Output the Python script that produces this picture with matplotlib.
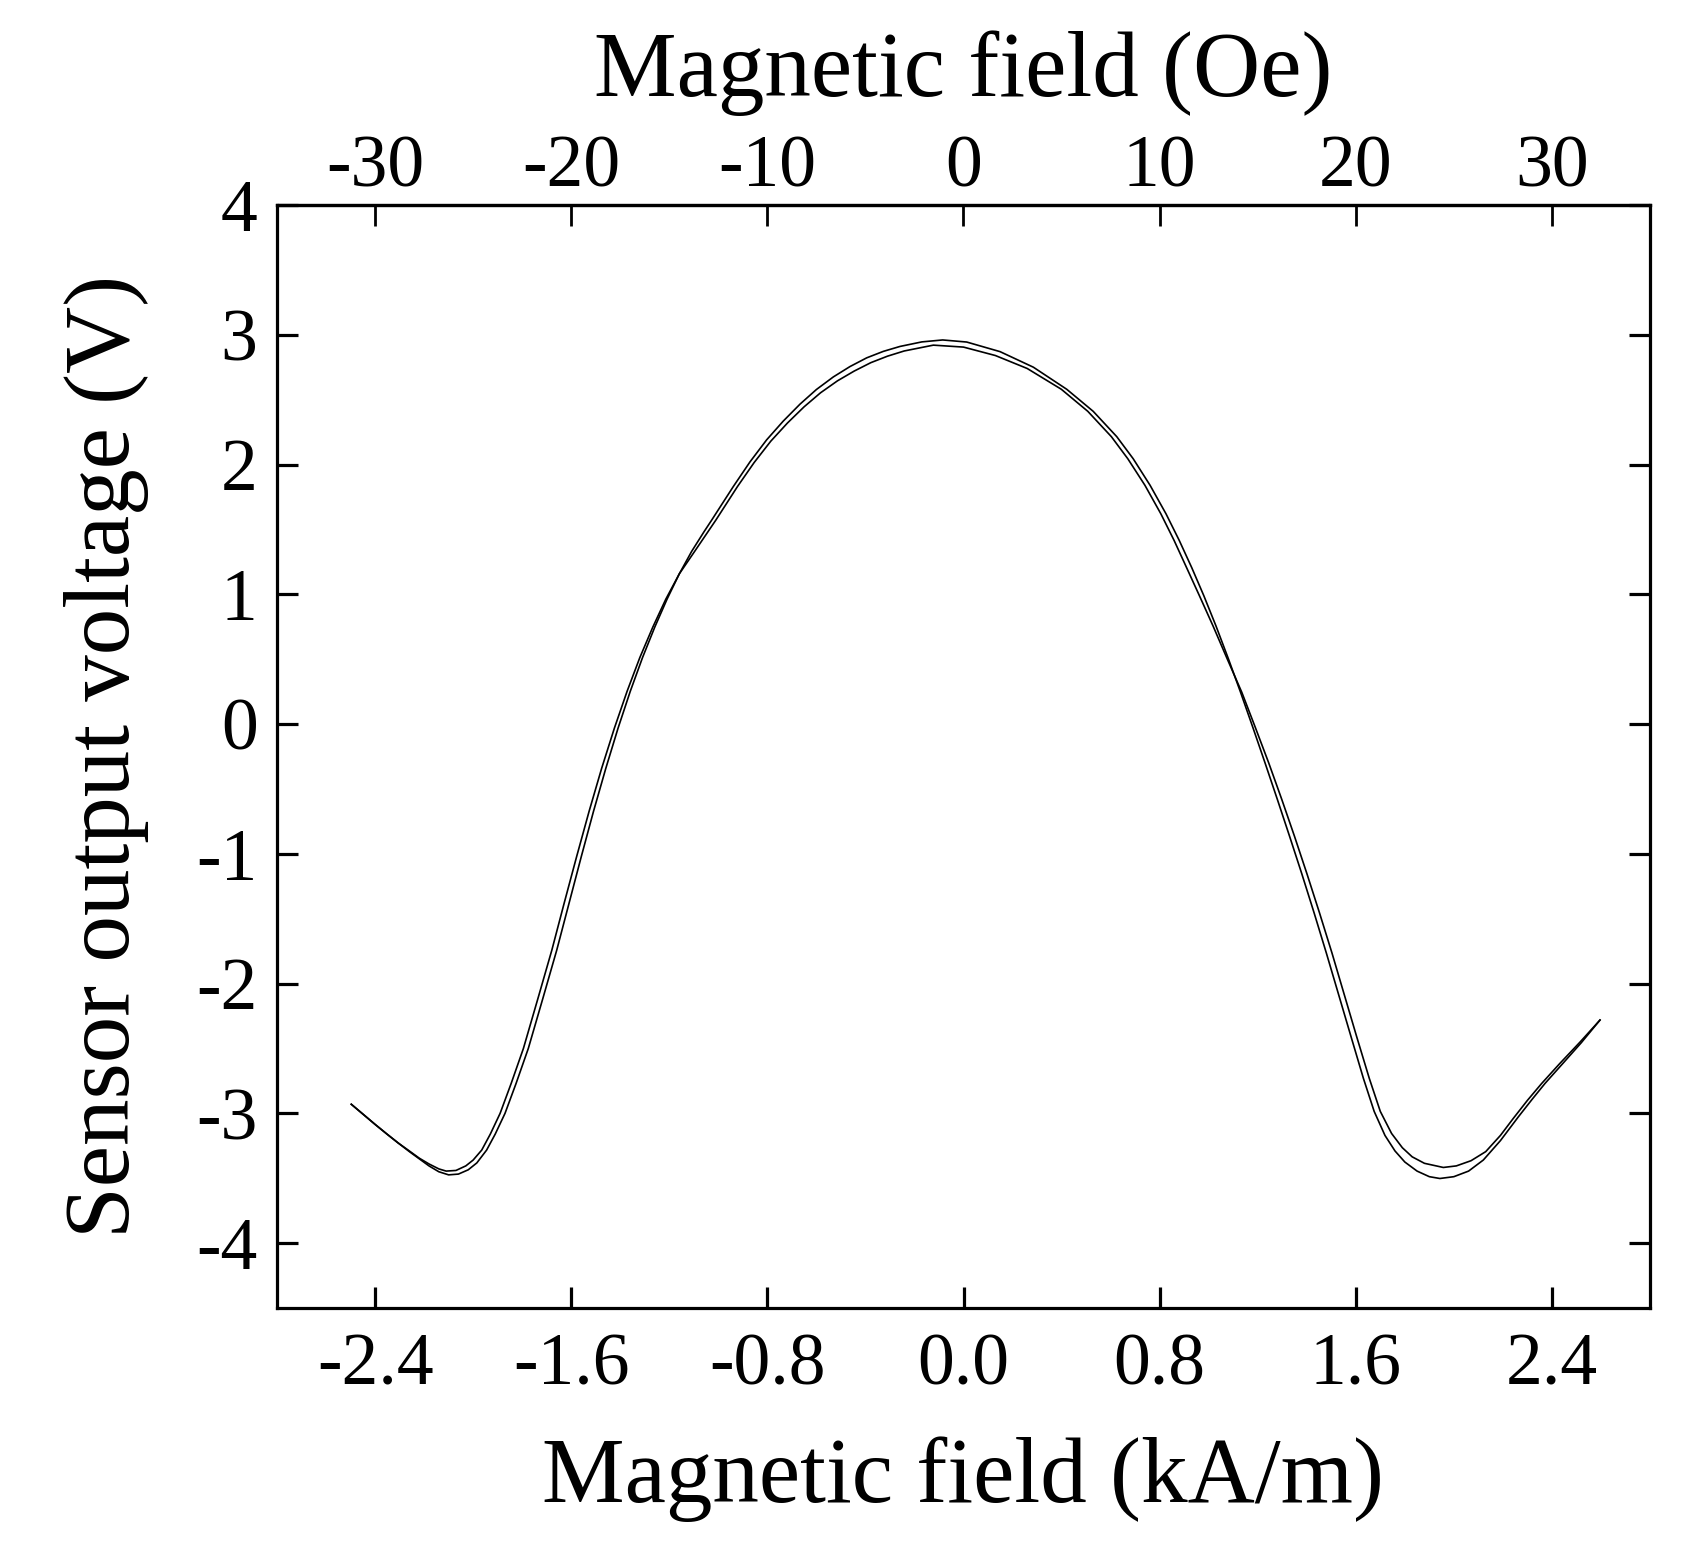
import numpy as np
import matplotlib.pyplot as plt
from matplotlib.ticker import FixedLocator, FormatStrFormatter


# -----------------------------
# Data (kA/m, V)
# -----------------------------
# branch with the larger swing (outer at the peak)
field_a = [-2.497, -2.450, -2.400, -2.350, -2.306, -2.260, -2.220, -2.180,
           -2.140, -2.100, -2.060, -2.020, -1.985, -1.945, -1.910, -1.870,
           -1.825, -1.775, -1.715, -1.659, -1.609, -1.559, -1.509, -1.459,
           -1.409, -1.359, -1.309, -1.259, -1.209, -1.159, -1.109, -1.059,
           -1.027, -0.939, -0.871, -0.803, -0.735, -0.667, -0.600, -0.531,
           -0.463, -0.395, -0.327, -0.259, -0.170, -0.085, 0.013, 0.149,
           0.285, 0.421, 0.529, 0.625, 0.692, 0.761, 0.826, 0.880,
           0.931, 0.980, 1.030, 1.080, 1.130, 1.180, 1.230, 1.280,
           1.330, 1.380, 1.430, 1.480, 1.530, 1.580, 1.631, 1.675,
           1.719, 1.760, 1.800, 1.850, 1.900, 1.943, 2.000, 2.060,
           2.120, 2.190, 2.263, 2.320, 2.372, 2.440, 2.520, 2.596]
volt_a = [-2.930, -3.005, -3.085, -3.162, -3.228, -3.295, -3.350, -3.405,
          -3.450, -3.474, -3.468, -3.435, -3.382, -3.283, -3.160, -3.000,
          -2.770, -2.500, -2.110, -1.742, -1.382, -1.022, -0.672, -0.342,
          -0.032, 0.253, 0.513, 0.748, 0.963, 1.158, 1.330, 1.480,
          1.572, 1.830, 2.020, 2.190, 2.335, 2.465, 2.578, 2.675,
          2.755, 2.822, 2.872, 2.910, 2.945, 2.960, 2.944, 2.870,
          2.750, 2.580, 2.410, 2.215, 2.045, 1.840, 1.620, 1.415,
          1.205, 0.990, 0.755, 0.505, 0.245, -0.025, -0.300, -0.580,
          -0.865, -1.155, -1.455, -1.765, -2.085, -2.405, -2.730, -2.985,
          -3.170, -3.290, -3.375, -3.445, -3.488, -3.502, -3.488, -3.445,
          -3.360, -3.210, -3.027, -2.890, -2.769, -2.625, -2.455, -2.281]

# branch with the smaller swing
field_b = [-2.497, -2.450, -2.400, -2.350, -2.306, -2.260, -2.220, -2.180,
           -2.140, -2.110, -2.070, -2.030, -2.000, -1.965, -1.930, -1.890,
           -1.845, -1.795, -1.735, -1.679, -1.629, -1.578, -1.527, -1.476,
           -1.424, -1.372, -1.320, -1.267, -1.214, -1.159, -1.095, -1.043,
           -1.010, -0.922, -0.854, -0.786, -0.718, -0.650, -0.583, -0.514,
           -0.446, -0.378, -0.310, -0.242, -0.123, 0.000, 0.130, 0.260,
           0.399, 0.507, 0.603, 0.670, 0.740, 0.805, 0.859, 0.910,
           0.962, 1.018, 1.075, 1.135, 1.190, 1.245, 1.298, 1.350,
           1.401, 1.452, 1.503, 1.553, 1.603, 1.655, 1.700, 1.746,
           1.790, 1.830, 1.880, 1.957, 2.010, 2.070, 2.130, 2.190,
           2.242, 2.300, 2.358, 2.430, 2.515, 2.596]
volt_b = [-2.930, -3.005, -3.085, -3.162, -3.228, -3.290, -3.345, -3.390,
          -3.428, -3.445, -3.440, -3.405, -3.360, -3.283, -3.160, -3.000,
          -2.770, -2.500, -2.110, -1.742, -1.382, -1.022, -0.672, -0.342,
          -0.032, 0.253, 0.513, 0.748, 0.963, 1.158, 1.335, 1.480,
          1.572, 1.830, 2.015, 2.180, 2.320, 2.445, 2.553, 2.645,
          2.720, 2.785, 2.835, 2.875, 2.920, 2.905, 2.840, 2.740,
          2.580, 2.410, 2.215, 2.045, 1.840, 1.620, 1.415, 1.205,
          0.990, 0.755, 0.505, 0.245, -0.025, -0.300, -0.580, -0.865,
          -1.155, -1.455, -1.765, -2.085, -2.405, -2.730, -2.985, -3.155,
          -3.265, -3.335, -3.385, -3.417, -3.405, -3.365, -3.295, -3.170,
          -3.040, -2.900, -2.770, -2.620, -2.450, -2.281]

x_ticks = [-2.4, -1.6, -0.8, 0.0, 0.8, 1.6, 2.4]
y_ticks = [-4, -3, -2, -1, 0, 1, 2, 3, 4]
oe_ticks = [-30, -20, -10, 0, 10, 20, 30]
OE_PER_KAM = 12.5  # top axis scale used in the figure


# -----------------------------
# Style
# -----------------------------
plt.rcParams["font.family"] = "serif"
plt.rcParams["font.serif"] = ["Liberation Serif", "DejaVu Serif"]
plt.rcParams["axes.unicode_minus"] = False

TICK_FS = 53
LABEL_FS = 67

fig = plt.figure(figsize=(16.92, 15.51), dpi=100)
ax = fig.add_axes([277 / 1692, 1 - 1308 / 1551,
                   (1650 - 277) / 1692, (1308 - 205) / 1551])

ax.plot(field_a, volt_a, color="black", lw=1.2)
ax.plot(field_b, volt_b, color="black", lw=1.2)

ax.set_xlim(-2.8, 2.8)
ax.set_ylim(-4.5, 4.0)

ax.xaxis.set_major_locator(FixedLocator(x_ticks))
ax.xaxis.set_major_formatter(FormatStrFormatter("%.1f"))
ax.yaxis.set_major_locator(FixedLocator(y_ticks))
ax.yaxis.set_major_formatter(FormatStrFormatter("%d"))

for sp in ax.spines.values():
    sp.set_linewidth(2.3)

ax.tick_params(axis="x", direction="in", length=15, width=2.3,
               labelsize=TICK_FS, pad=18, top=False)
ax.tick_params(axis="y", direction="in", length=15, width=2.3,
               labelsize=TICK_FS, pad=14, right=True)

ax.set_xlabel("Magnetic field (kA/m)", fontsize=LABEL_FS, labelpad=26)
ax.set_ylabel("Sensor output voltage (V)", fontsize=LABEL_FS, labelpad=34)

# top axis in Oe
top = ax.secondary_xaxis("top", functions=(lambda x: x * OE_PER_KAM,
                                           lambda x: x / OE_PER_KAM))
top.xaxis.set_major_locator(FixedLocator(oe_ticks))
top.xaxis.set_major_formatter(FormatStrFormatter("%d"))
top.tick_params(direction="in", length=15, width=2.0,
                labelsize=TICK_FS, pad=2)
top.spines["top"].set_linewidth(2.3)
top.set_xlabel("Magnetic field (Oe)", fontsize=LABEL_FS, labelpad=28)

plt.savefig("out.png", dpi=100)
